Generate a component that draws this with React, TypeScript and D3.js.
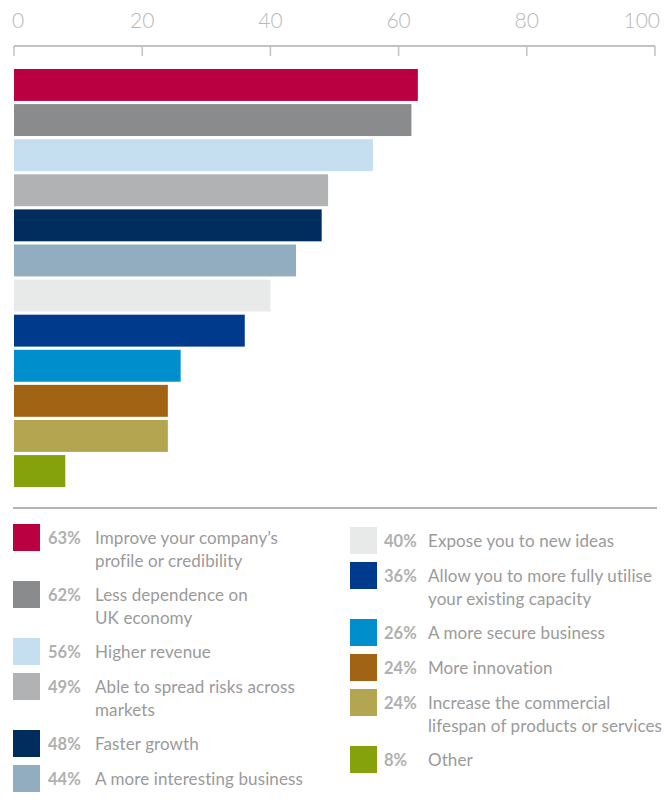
import React from "react";
import * as d3 from "d3";

const categories: string[] = [
  "Improve your company’s\nprofile or credibility",
  "Less dependence on\nUK economy",
  "Higher revenue",
  "Able to spread risks across\nmarkets",
  "Faster growth",
  "A more interesting business",
  "Expose you to new ideas",
  "Allow you to more fully utilise\nyour existing capacity",
  "A more secure business",
  "More innovation",
  "Increase the commercial\nlifespan of products or services",
  "Other",
];
const values: number[] = [63, 62, 56, 49, 48, 44, 40, 36, 26, 24, 24, 8];
const colors: string[] = [
  "#bb0042", "#8a8b8d", "#c5dff0", "#b1b2b4", "#002d5e", "#92adc0",
  "#e8e9e9", "#003a8c", "#008ecc", "#a06414", "#b4a550", "#85a20d",
];
const tickValues: number[] = [0, 20, 40, 60, 80, 100];

const W = 671;
const H = 809;

export default function App() {
  const x = d3.scaleLinear().domain([0, 100]).range([14, 655]);
  const y = d3
    .scaleBand<number>()
    .domain(values.map((_, i) => i))
    .range([69, 487])
    .paddingInner(0.09)
    .paddingOuter(0);

  const axisY = 46;
  const font = "Lato, 'Open Sans', sans-serif";

  const leftIdx = [0, 1, 2, 3, 4, 5];
  const rightIdx = [6, 7, 8, 9, 10, 11];
  const layoutCol = (idx: number[], startY: number) => {
    let yy = startY;
    return idx.map((i) => {
      const lines = categories[i].split("\n");
      const item = { i, lines, y: yy };
      yy += 35 + 22 * (lines.length - 1);
      return item;
    });
  };
  const leftItems = layoutCol(leftIdx, 524);
  const rightItems = layoutCol(rightIdx, 527);

  const renderItems = (items: ReturnType<typeof layoutCol>, sx: number, px: number, lx: number) =>
    items.map((it) => (
      <g key={it.i}>
        <rect x={sx} y={it.y} width={27} height={27} fill={colors[it.i]} />
        <text
          x={px}
          y={it.y + 20}
          fontFamily={font}
          fontWeight={700}
          fontSize={16.5}
          fill="#b0b0b0"
        >
          {values[it.i]}%
        </text>
        <text
          x={lx}
          y={it.y + 20}
          fontFamily={font}
          fontSize={17}
          letterSpacing={0.1}
          fill="#9a9a9a"
        >
          {it.lines.map((ln, k) => (
            <tspan key={k} x={lx} dy={k === 0 ? 0 : 23}>
              {ln}
            </tspan>
          ))}
        </text>
      </g>
    ));

  return (
    <svg width={W} height={H} style={{ position: "absolute", left: 0, top: 0 }}>
      <rect width={W} height={H} fill="#ffffff" />
      <line x1={x(0)} x2={x(100)} y1={axisY} y2={axisY} stroke="#c2c2c2" strokeWidth={2} />
      {tickValues.map((t, k) => (
        <g key={t}>
          <line x1={x(t)} x2={x(t)} y1={axisY} y2={axisY + 10} stroke="#c2c2c2" strokeWidth={1.5} />
          <text
            x={k === 0 ? x(t) - 2 : k === tickValues.length - 1 ? x(t) + 5 : x(t)}
            y={28}
            textAnchor={k === 0 ? "start" : k === tickValues.length - 1 ? "end" : "middle"}
            fontFamily={font}
            fontWeight={300}
            fontSize={21}
            fill="#b8b8b8"
          >
            {t}
          </text>
        </g>
      ))}
      {values.map((v, i) => (
        <rect
          key={i}
          x={x(0)}
          y={y(i)}
          width={x(v) - x(0)}
          height={y.bandwidth()}
          fill={colors[i]}
        />
      ))}
      <line x1={13} x2={657} y1={508} y2={508} stroke="#b4b4b4" strokeWidth={2} />
      {renderItems(leftItems, 13, 48, 95)}
      {renderItems(rightItems, 350, 384, 428)}
    </svg>
  );
}
